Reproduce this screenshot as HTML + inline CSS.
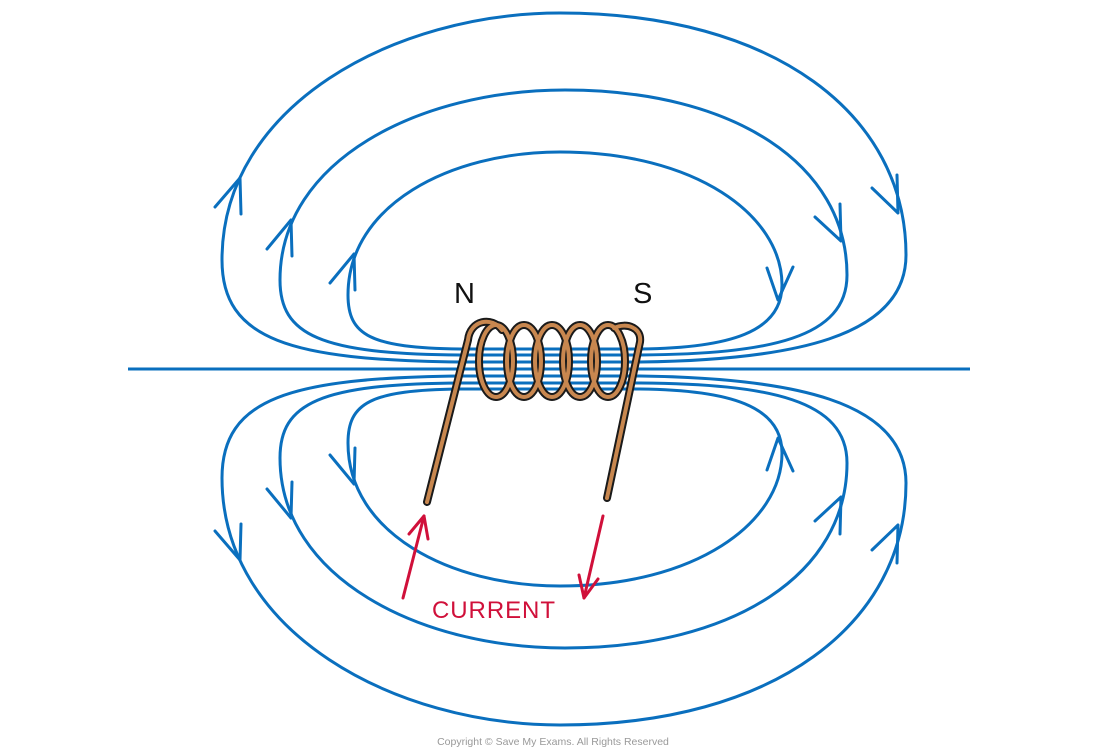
<!DOCTYPE html>
<html><head><style>
html,body{margin:0;padding:0;background:#fff;}
svg{display:block;}
</style></head><body>
<svg width="1100" height="755" viewBox="0 0 1100 755" xmlns="http://www.w3.org/2000/svg">
<defs>
<g id="half" fill="none" stroke="#0a6fbe" stroke-width="3" stroke-linecap="round" stroke-linejoin="round">
  <path d="M460,362 C290,360 222,340 222,260 C222,105 395,13 560,13 C775,13 906,115 906,255 C906,338 790,360 640,362 Z"/>
  <path d="M460,355 C320,354 280,335 280,280 C280,160 420,90 565,90 C735,90 847,165 847,275 C847,338 770,354 640,355 Z"/>
  <path d="M460,349 C370,348 348,335 348,295 C348,205 450,152 560,152 C695,152 782,215 782,285 C782,332 730,348 640,349 Z"/>
  <polyline points="215,207 240,178 241,214"/>
  <polyline points="267,249 291,220 292,256"/>
  <polyline points="330,283 354,254 355,290"/>
  <polyline points="872,188 898,213 897,175"/>
  <polyline points="815,217 841,241 840,204"/>
  <polyline points="767,268 778,300 793,267"/>
</g>
</defs>
<use href="#half"/>
<use href="#half" transform="translate(0,738) scale(1,-1)"/>
<line x1="128" y1="369" x2="970" y2="369" stroke="#0a6fbe" stroke-width="3"/>
<!-- coil -->
<g fill="none" stroke-linecap="round">
  <g stroke="#1a1a1a" stroke-width="8">
    <path d="M427,502 L468,340 C470,320 492,316 502,330"/>
    <ellipse cx="496" cy="361" rx="17" ry="36"/>
    <ellipse cx="524" cy="361" rx="17" ry="36"/>
    <ellipse cx="552" cy="361" rx="17" ry="36"/>
    <ellipse cx="580" cy="361" rx="17" ry="36"/>
    <ellipse cx="608" cy="361" rx="17" ry="36"/>
    <path d="M614,328 C627,322 642,328 640,342 L607,498"/>
  </g>
  <g stroke="#c8874f" stroke-width="4">
    <path d="M427,502 L468,340 C470,320 492,316 502,330"/>
    <ellipse cx="496" cy="361" rx="17" ry="36"/>
    <ellipse cx="524" cy="361" rx="17" ry="36"/>
    <ellipse cx="552" cy="361" rx="17" ry="36"/>
    <ellipse cx="580" cy="361" rx="17" ry="36"/>
    <ellipse cx="608" cy="361" rx="17" ry="36"/>
    <path d="M614,328 C627,322 642,328 640,342 L607,498"/>
  </g>
</g>
<!-- current arrows -->
<g fill="none" stroke="#d0103a" stroke-width="3" stroke-linecap="round" stroke-linejoin="round">
  <line x1="403" y1="598" x2="424" y2="516"/>
  <polyline points="409,534 424,516 428,539"/>
  <line x1="603" y1="516" x2="584" y2="598"/>
  <polyline points="579,575 584,598 598,579"/>
</g>
<text x="432" y="618" font-family="Liberation Sans, sans-serif" font-size="24" fill="#d0103a" textLength="123">CURRENT</text>
<text x="454" y="303" font-family="Liberation Sans, sans-serif" font-size="29" fill="#111">N</text>
<text x="633" y="303" font-family="Liberation Sans, sans-serif" font-size="29" fill="#111">S</text>
<text x="553" y="745" text-anchor="middle" font-family="Liberation Sans, sans-serif" font-size="10.5" fill="#999">Copyright © Save My Exams. All Rights Reserved</text>
</svg>
</body></html>
